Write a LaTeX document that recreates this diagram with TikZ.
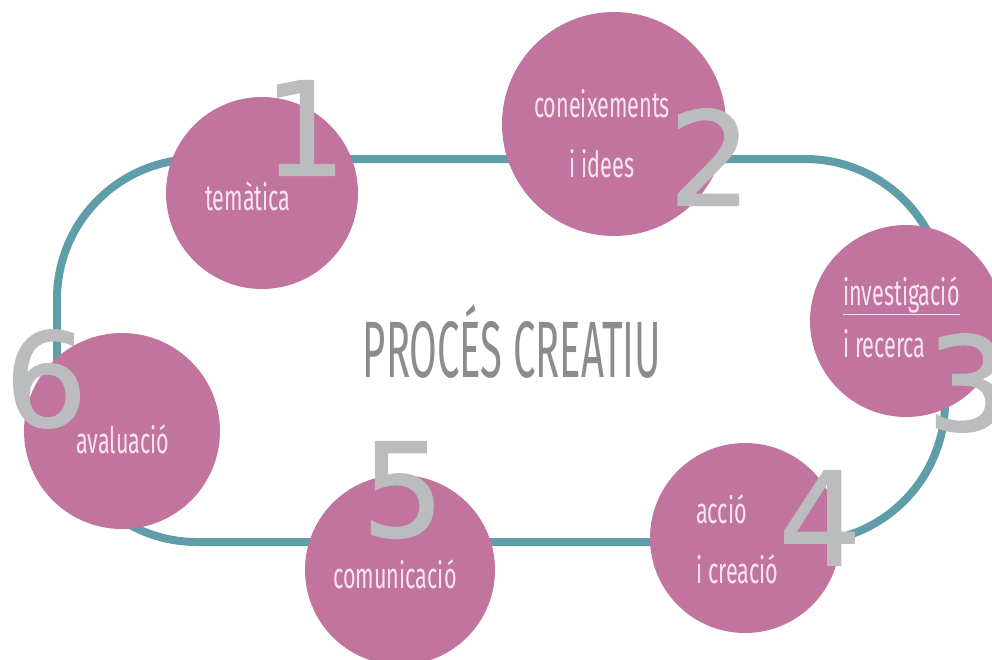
\documentclass[tikz,border=0pt]{standalone}
\usepackage{fontspec}
\usepackage{tikz}
\newfontfamily\circfont[FakeStretch=0.6]{Fira Sans}
\newfontfamily\titlefont[FakeStretch=0.5]{Fira Sans}
\newfontfamily\numfont[FakeBold=1.2]{DejaVu Sans}
\definecolor{stagePink}{RGB}{192,116,158}
\definecolor{stageText}{RGB}{250,228,240}
\definecolor{loopTeal}{RGB}{95,157,168}
\definecolor{numGrey}{RGB}{186,188,189}
\definecolor{titleGrey}{RGB}{140,140,140}
\tikzstyle{stage} = [circle, fill=stagePink, draw=none, inner sep=0pt]
\tikzstyle{stagetext} = [text=stageText, font=\circfont\fontsize{36}{40}\selectfont, inner sep=0pt]
\tikzstyle{stagenum} = [text=numGrey, font=\numfont\fontsize{130}{130}\selectfont, inner sep=0pt]
\tikzstyle{titletext} = [text=titleGrey, font=\titlefont\fontsize{80}{90}\selectfont, inner sep=0pt]
\tikzstyle{loopline} = [draw=loopTeal, line width=8pt, rounded corners=140pt]
\tikzstyle{rule} = [draw=stageText, line width=1pt]

\begin{document}
\begin{tikzpicture}[x=1pt,y=-1pt]
	\useasboundingbox (0,0) rectangle (992,659);
	\coordinate (nw) at (57,159);
	\coordinate (se) at (945,542);
	\draw[loopline] (nw) rectangle (se);

	\node (s1) [stage, minimum size=192pt] at (262,193) {};
	\node (s2) [stage, minimum size=224pt] at (614,124) {};
	\node (s3) [stage, minimum size=192pt] at (906,321) {};
	\node (s4) [stage, minimum size=190pt] at (745,538) {};
	\node (s5) [stage, minimum size=190pt] at (400,570) {};
	\node (s6) [stage, minimum size=196pt] at (122,431) {};

	\node (t1) [stagetext, anchor=base] at (248,210) {temàtica};
	\node (t2a) [stagetext, anchor=base] at (602,117) {coneixements};
	\node (t2b) [stagetext, anchor=base] at (602,177) {i idees};
	\node (t3a) [stagetext, anchor=base west] at (843,305) {investigació};
	\node (t3b) [stagetext, anchor=base west] at (843,357) {i recerca};
	\node (t4a) [stagetext, anchor=base west] at (696,523) {acció};
	\node (t4b) [stagetext, anchor=base west] at (696,583) {i creació};
	\node (t5) [stagetext, anchor=base] at (395,588) {comunicació};
	\node (t6) [stagetext, anchor=base] at (123,453) {avaluació};
	\draw[rule] ([yshift=-9pt]t3a.base west) -- ([yshift=-9pt]t3a.base east);

	\node (n1) [stagenum] at (305,128) {1};
	\node (n2) [stagenum] at (710,157) {2};
	\node (n3) [stagenum] at (968,383) {3};
	\node (n4) [stagenum] at (820,518) {4};
	\node (n5) [stagenum] at (403,490) {5};
	\node (n6) [stagenum] at (46,379) {6};

	\node (title) [titletext, anchor=base] at (512,377) {PROCÉS CREATIU};
\end{tikzpicture}
\end{document}
